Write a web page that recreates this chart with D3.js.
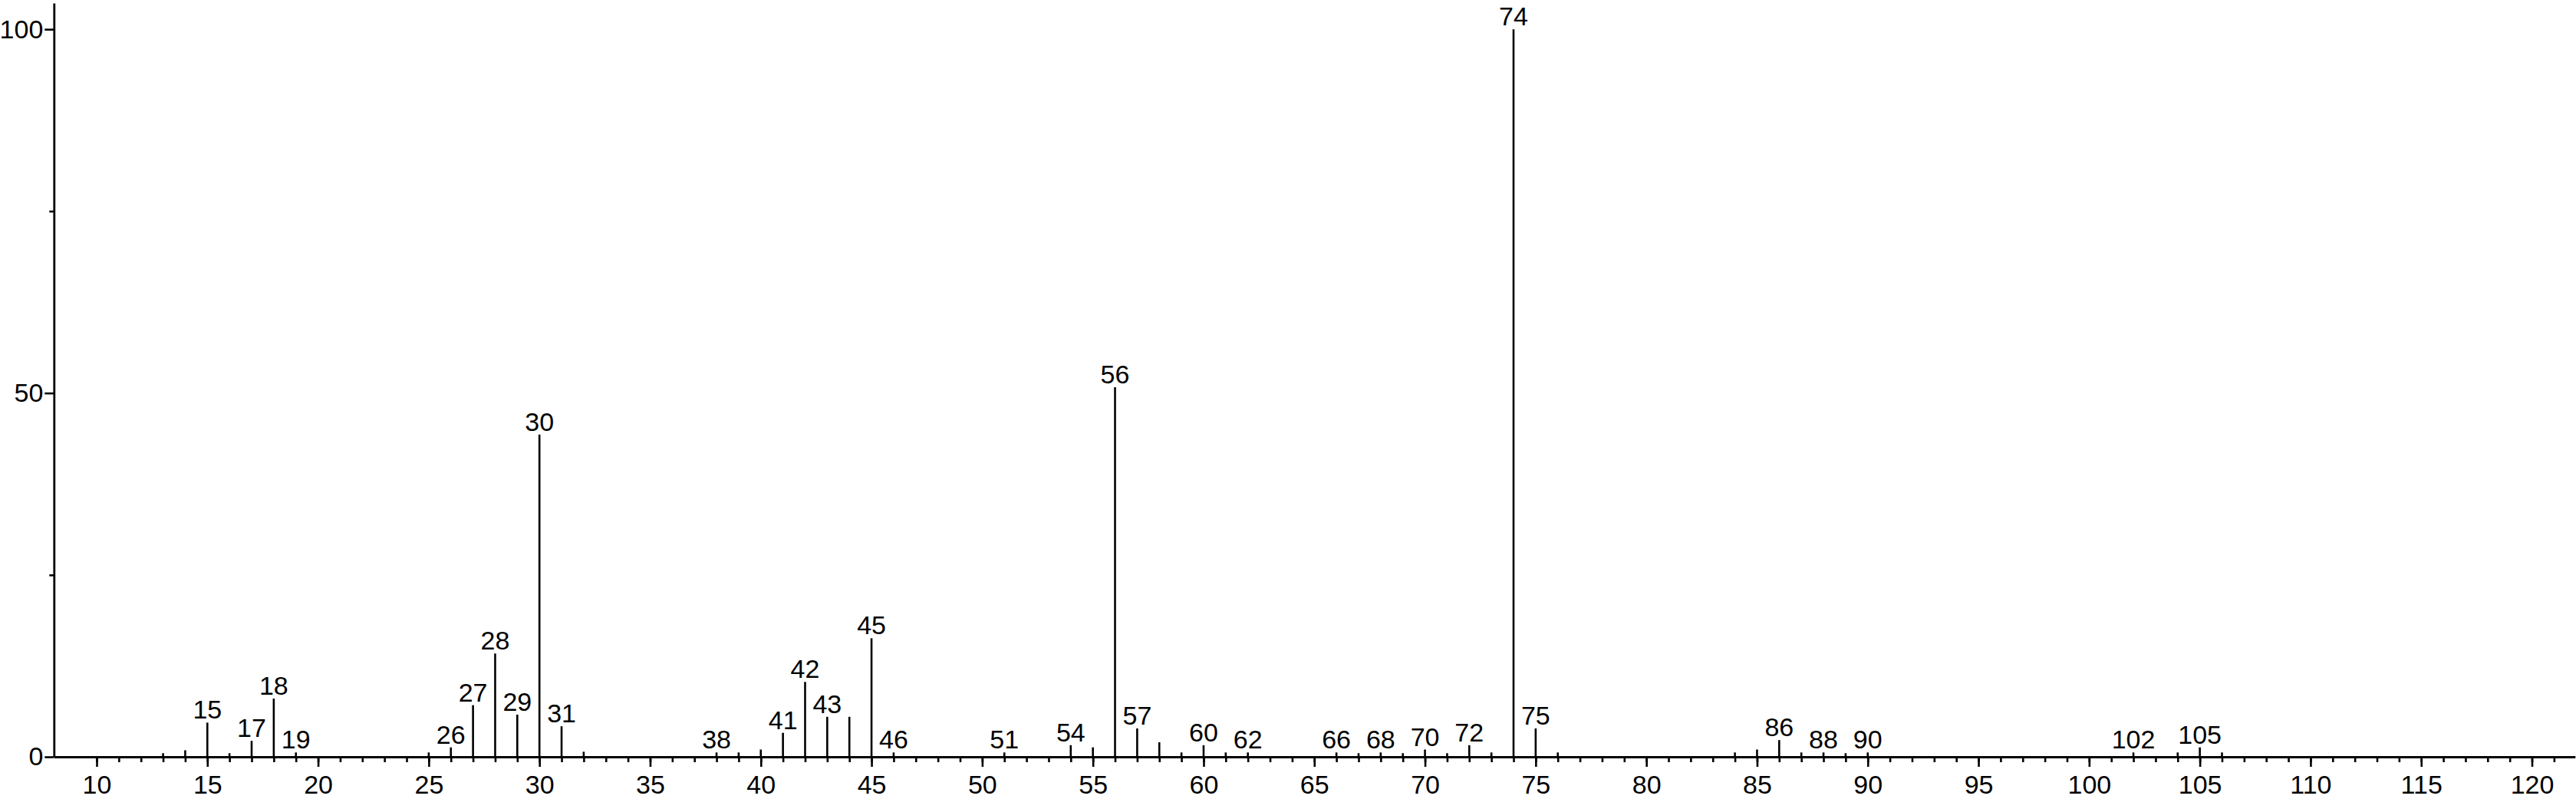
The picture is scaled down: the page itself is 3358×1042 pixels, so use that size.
<!DOCTYPE html>
<html>
<head>
<meta charset="utf-8">
<script src="https://cdn.jsdelivr.net/npm/d3@7"></script>
<style>
  html, body { margin: 0; padding: 0; background: #fff; }
  svg { display: block; }
  text { font-family: "Liberation Sans", Arial, sans-serif; fill: #000; }
</style>
</head>
<body>
<svg id="chart" width="3358" height="1042"></svg>
<script>
// m/z values of the peaks
const mz = [13,14,15,16,17,18,19,25,26,27,28,29,30,31,32,38,39,40,41,42,43,44,45,46,51,54,55,56,57,58,59,60,61,62,66,67,68,69,70,71,72,73,74,75,76,84,85,86,87,88,89,90,102,104,105,106];
// relative intensity (%) of each peak
const intensity = [0.5,0.9,4.7,0.5,2.2,8.0,0.6,0.6,1.3,7.1,14.2,5.8,44.3,4.2,0.7,0.6,0.6,1.0,3.3,10.3,5.5,5.5,16.3,0.6,0.6,1.6,1.3,50.8,3.9,2.0,0.6,1.6,0.6,0.6,0.6,0.5,0.6,0.5,1.0,0.5,1.6,0.6,100,3.9,0.6,0.6,1.0,2.3,0.6,0.6,0.5,0.6,0.6,0.6,1.3,0.6];
// peaks that carry an m/z label
const labeled = [15,17,18,19,26,27,28,29,30,31,38,41,42,43,45,46,51,54,56,57,60,62,66,68,70,72,74,75,86,88,90,102,105];
// axis ticks
const xMajorTicks = [10,15,20,25,30,35,40,45,50,55,60,65,70,75,80,85,90,95,100,105,110,115,120];
const xMinorTicks = d3.range(10, 122);
const yMajorTicks = [0, 50, 100];
const yMinorTicks = [25, 75];

const peaks = mz.map((m, i) => ({ mz: m, value: intensity[i], label: labeled.includes(m) }));

const svg = d3.select("#chart");
const x = d3.scaleLinear().domain([8.07, 121.95]).range([70.3, 3356.8]);
const y = d3.scaleLinear().domain([0, 103.6]).range([987, 4]);

const fs = 34;
const ff = "Liberation Sans, Arial, sans-serif";

// minor x ticks
const xMinor = svg.append("g")
  .attr("transform", `translate(0,${y(0)})`)
  .call(d3.axisBottom(x).tickValues(xMinorTicks).tickSize(7).tickSizeOuter(0).tickFormat(""));
xMinor.select(".domain").remove();
xMinor.selectAll("line").attr("stroke", "#000").attr("stroke-width", 2.6);

// major x ticks + labels + axis line
const xMajor = svg.append("g")
  .attr("transform", `translate(0,${y(0)})`)
  .call(d3.axisBottom(x).tickValues(xMajorTicks).tickSize(13).tickSizeOuter(0).tickPadding(11).tickFormat(d3.format("d")));
xMajor.select(".domain").attr("stroke", "#000").attr("stroke-width", 3);
xMajor.selectAll("line").attr("stroke", "#000").attr("stroke-width", 2.6);
xMajor.selectAll("text").attr("font-size", fs).attr("font-family", ff).attr("fill", "#000");

// y axis
const yMinor = svg.append("g")
  .attr("transform", `translate(${x.range()[0]},0)`)
  .call(d3.axisLeft(y).tickValues(yMinorTicks).tickSize(6).tickSizeOuter(0).tickFormat(""));
yMinor.select(".domain").remove();
yMinor.selectAll("line").attr("stroke", "#000").attr("stroke-width", 2.6);

const yMajor = svg.append("g")
  .attr("transform", `translate(${x.range()[0]},0)`)
  .call(d3.axisLeft(y).tickValues(yMajorTicks).tickSize(12).tickSizeOuter(0).tickPadding(2).tickFormat(d3.format("d")));
yMajor.select(".domain").attr("stroke", "#000").attr("stroke-width", 2.8);
yMajor.selectAll("line").attr("stroke", "#000").attr("stroke-width", 2.6);
yMajor.selectAll("text").attr("font-size", fs).attr("font-family", ff).attr("fill", "#000");

// peaks
svg.append("g").selectAll("line")
  .data(peaks)
  .join("line")
  .attr("x1", d => x(d.mz)).attr("x2", d => x(d.mz))
  .attr("y1", y(0)).attr("y2", d => y(d.value))
  .attr("stroke", "#000").attr("stroke-width", 2.6);

// peak labels
svg.append("g").selectAll("text")
  .data(peaks.filter(d => d.label))
  .join("text")
  .attr("x", d => x(d.mz))
  .attr("y", d => y(d.value) - 5)
  .attr("text-anchor", "middle")
  .attr("font-size", fs)
  .text(d => d.mz);
</script>
</body>
</html>
